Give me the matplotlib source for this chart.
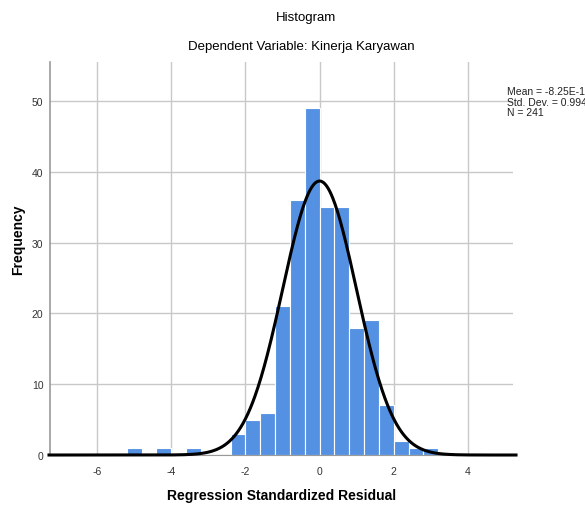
import numpy as np
import matplotlib
matplotlib.use('Agg')
import matplotlib.pyplot as plt

# bin edges (width 0.4) and counts
bin_left = [-5.2, -4.4, -3.6, -2.4, -2.0, -1.6, -1.2, -0.8, -0.4,
            0.0, 0.4, 0.8, 1.2, 1.6, 2.0, 2.4, 2.8]
counts = [1, 1, 1, 3, 5, 6, 21, 36, 49, 35, 35, 18, 19, 7, 2, 1, 1]
bin_width = 0.4

mean = -8.25e-16
std_dev = 0.994
n_total = 241

x_ticks = [-6, -4, -2, 0, 2, 4]
y_ticks = [0, 10, 20, 30, 40, 50]

plt.rcParams['font.family'] = ['Liberation Sans', 'DejaVu Sans']
plt.rcParams['axes.unicode_minus'] = False

fig = plt.figure(figsize=(5.85, 5.06), dpi=100)
ax = fig.add_axes([0.0863, 0.0988, 0.7907, 0.7767])

grid_col = '#c8c8c8'
ax.set_axisbelow(True)
ax.grid(True, color=grid_col, linewidth=1)

ax.bar(bin_left, counts, width=bin_width, align='edge',
       color='#5591e3', edgecolor='white', linewidth=0.8, zorder=2)

# fitted normal curve
xs = np.linspace(-7.3, 5.3, 600)
ys = n_total * bin_width / (std_dev * np.sqrt(2 * np.pi)) * np.exp(-0.5 * ((xs - mean) / std_dev) ** 2)
ax.plot(xs, ys, color='black', linewidth=2.2, zorder=3, clip_on=False)

ax.set_xlim(-7.26, 5.22)
ax.set_ylim(0, 55.5)
ax.set_xticks(x_ticks)
ax.set_yticks(y_ticks)
ax.tick_params(length=0, labelsize=7.5, colors='#333333')
ax.tick_params(axis='x', pad=8)
ax.tick_params(axis='y', pad=5)

for side in ['top', 'right']:
    ax.spines[side].set_visible(False)
ax.spines['left'].set_color('#999999')
ax.spines['bottom'].set_color('#999999')
ax.spines['left'].set_linewidth(1.2)

ax.set_xlabel('Regression Standardized Residual', fontsize=10, fontweight='bold')
ax.set_ylabel('Frequency', fontsize=10, fontweight='bold')
ax.xaxis.set_label_coords(0.5, -0.085)
ax.yaxis.set_label_coords(-0.055, 0.55)

fig.text(0.523, 0.964, 'Histogram', ha='center', va='center', fontsize=9.5)
fig.text(0.515, 0.907, 'Dependent Variable: Kinerja Karyawan', ha='center', va='center',
         fontsize=9.5)

fig.text(0.867, 0.797, 'Mean = -8.25E-16\nStd. Dev. = 0.994\nN = 241',
         ha='left', va='center', fontsize=7.5, linespacing=1.05, color='#222222')

fig.savefig('out.png', dpi=100)
